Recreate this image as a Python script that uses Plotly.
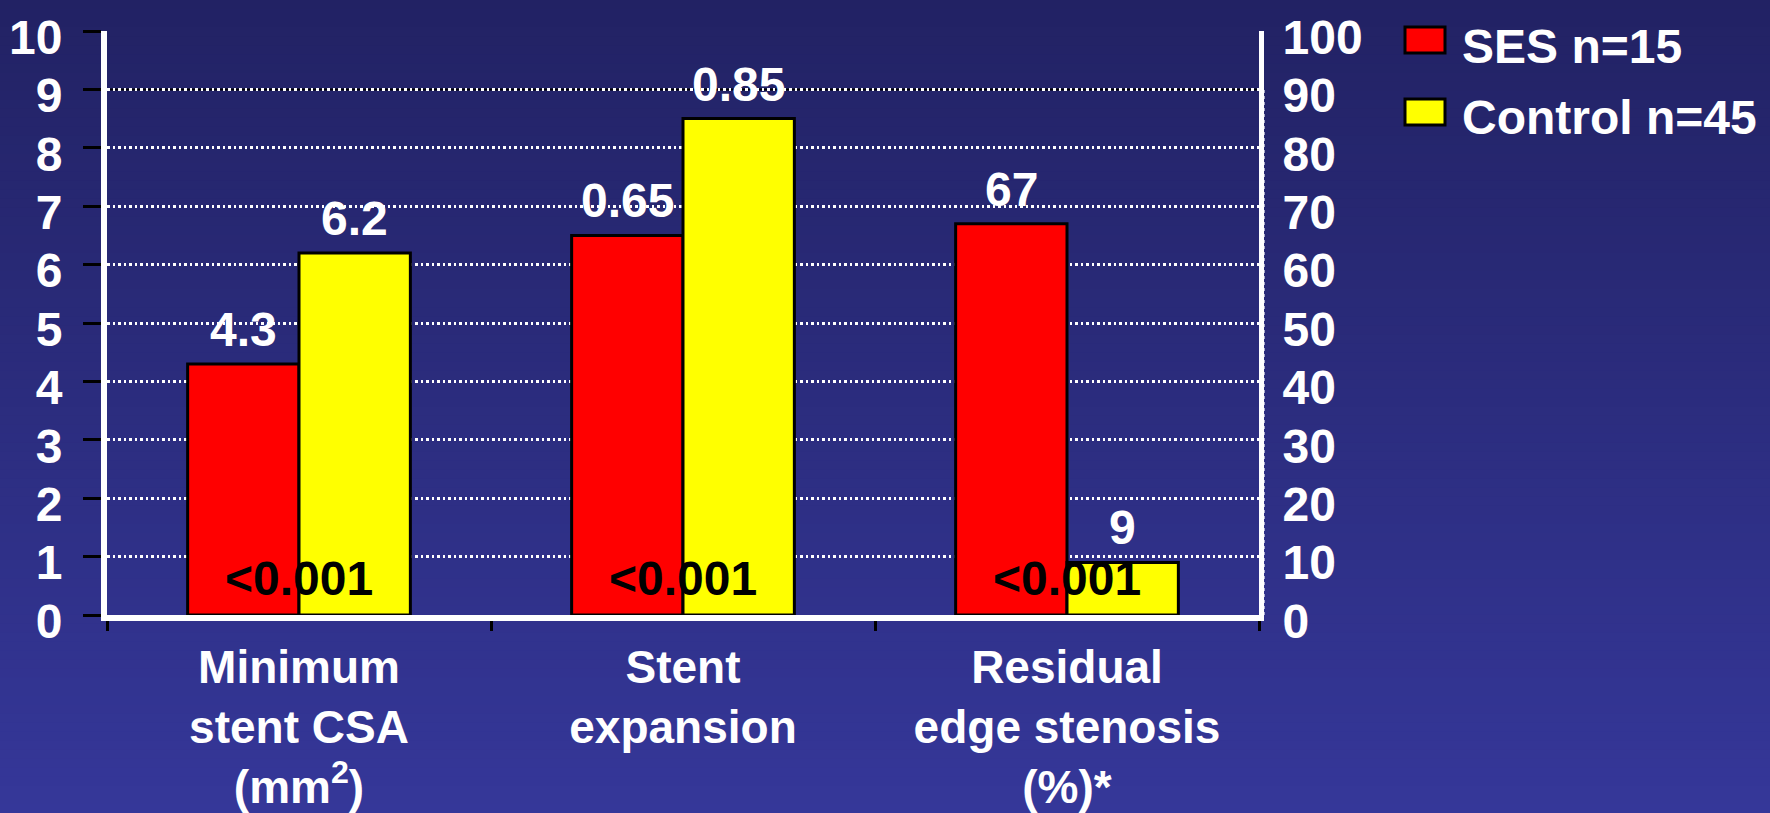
import plotly.graph_objects as go

# ---- data -------------------------------------------------------------
categories = [
    "Minimum<br>stent CSA<br>(mm<sup>2</sup>)",
    "Stent<br>expansion",
    "Residual<br>edge stenosis<br>(%)*",
]
ses_values = [4.3, 0.65, 67]        # SES group
control_values = [6.2, 0.85, 9]     # control group
p_values = ["&lt;0.001", "&lt;0.001", "&lt;0.001"]
series_names = ["SES n=15", "Control n=45"]

left_ticks = list(range(0, 11))          # mm2 scale
right_ticks = list(range(0, 101, 10))    # percent scale
expansion_range = [0, 1]                 # ratio scale (hidden axis)

# ---- style ------------------------------------------------------------
W, H = 1770, 813
L, R, T, B = 107, 511, 31, 198
PW, PH = W - L - R, H - T - B
FONT = "Liberation Sans, Arial, Helvetica, sans-serif"
SES_COLOR = "#ff0000"
CTRL_COLOR = "#ffff00"
BARGAP = 0.42
TXT = 48

# each category is measured on its own value axis
cat_axes = ["y", "y2", "y3"]


def paper_x(px):
    return (px - L) / PW


def paper_y(py):
    return (H - B - py) / PH


fig = go.Figure()
for i, cat in enumerate(categories):
    for vals, color, name in ((ses_values, SES_COLOR, series_names[0]),
                              (control_values, CTRL_COLOR, series_names[1])):
        fig.add_trace(go.Bar(
            x=[cat], y=[vals[i]], yaxis=cat_axes[i], name=name,
            marker=dict(color=color, line=dict(color="black", width=3)),
            showlegend=False, hoverinfo="skip",
        ))

# ---- background gradient (top navy to lighter blue) --------------------
top_rgb = (34, 34, 100)
bot_rgb = (53, 55, 153)
n_bands = 90
shapes = []
for k in range(n_bands):
    t = k / (n_bands - 1)
    c = tuple(round(a + (b - a) * t) for a, b in zip(top_rgb, bot_rgb))
    y0 = H * k / n_bands
    y1 = H * (k + 1) / n_bands + 1
    shapes.append(dict(
        type="rect", xref="paper", yref="paper", layer="below",
        x0=paper_x(-2), x1=paper_x(W + 2), y0=paper_y(y1), y1=paper_y(y0),
        fillcolor="rgb(%d,%d,%d)" % c, line=dict(width=0),
    ))

# dark rule under the 9 gridline
shapes.append(dict(type="line", xref="x domain", yref="y", layer="below",
                   x0=0, x1=1, y0=9, y1=9, line=dict(color="black", width=2)))
# dotted rule beside the right axis
shapes.append(dict(type="line", xref="x domain", yref="y", layer="above",
                   x0=1.004, x1=1.004, y0=0, y1=9,
                   line=dict(color="white", width=2, dash="dot")))

# ---- legend swatches ---------------------------------------------------
legend_rows = [(series_names[0], SES_COLOR, 40), (series_names[1], CTRL_COLOR, 112)]
annotations = []
for name, color, cy in legend_rows:
    shapes.append(dict(
        type="rect", xref="paper", yref="paper", layer="above",
        x0=paper_x(1405), x1=paper_x(1445),
        y0=paper_y(cy + 13), y1=paper_y(cy - 13),
        fillcolor=color, line=dict(color="black", width=3),
    ))
    annotations.append(dict(
        xref="paper", yref="paper", x=paper_x(1460), y=paper_y(cy + 6),
        xanchor="left", yanchor="middle", showarrow=False, text=name,
        font=dict(family=FONT, size=TXT, color="white", weight="bold"),
    ))

# ---- value labels and p values -----------------------------------------
half = (1 - BARGAP) / 4
for i in range(len(categories)):
    yref = cat_axes[i]
    for vals, sign in ((ses_values, -1), (control_values, 1)):
        annotations.append(dict(
            xref="x", yref=yref, x=i + sign * half, y=vals[i],
            xanchor="center", yanchor="bottom", yshift=6, showarrow=False,
            text=f"{vals[i]:g}",
            font=dict(family=FONT, size=TXT, color="white", weight="bold"),
        ))
    annotations.append(dict(
        xref="x", yref=yref, x=i, y=0,
        xanchor="center", yanchor="bottom", yshift=8, showarrow=False,
        text=p_values[i],
        font=dict(family=FONT, size=TXT, color="black", weight="bold"),
    ))

tick_font = dict(family=FONT, size=TXT, color="white", weight="bold")
cat_font = dict(family=FONT, size=46, color="white", weight="bold")

fig.update_layout(
    width=W, height=H,
    margin=dict(l=L, r=R, t=T, b=B, pad=0, autoexpand=False),
    paper_bgcolor="rgb(44,44,126)", plot_bgcolor="rgba(0,0,0,0)",
    barmode="group", bargap=BARGAP, bargroupgap=0,
    showlegend=False,
    font=dict(family=FONT, size=TXT, color="white", weight="bold"),
    shapes=shapes, annotations=annotations,
    xaxis=dict(
        type="category", categoryorder="array", categoryarray=categories,
        tickson="boundaries", ticks="outside", ticklen=10, tickwidth=3,
        tickcolor="black", showline=True, linecolor="white", linewidth=6,
        showgrid=False, zeroline=False, tickfont=cat_font,
        ticklabelstandoff=7, automargin=False, ticklabeloverflow="allow",
    ),
    yaxis=dict(
        range=[0, 10], tickvals=left_ticks, ticks="outside", ticklen=18,
        tickwidth=3, tickcolor="black", showline=True, linecolor="white",
        linewidth=6, showgrid=True, gridcolor="white", gridwidth=2.5,
        griddash="2.5px,3px", zeroline=False, tickfont=tick_font,
        ticklabelstandoff=11, ticklabelshift=6, automargin=False,
        ticklabeloverflow="allow",
    ),
    yaxis2=dict(range=expansion_range, overlaying="y", visible=False,
                automargin=False),
    yaxis3=dict(
        range=[0, 100], tickvals=right_ticks, overlaying="y", side="right",
        ticks="", showline=True, linecolor="white", linewidth=5,
        showgrid=False, zeroline=False, tickfont=tick_font,
        ticklabelstandoff=9, ticklabelshift=6, automargin=False,
        ticklabeloverflow="allow",
    ),
)

fig.write_html("out.html")
